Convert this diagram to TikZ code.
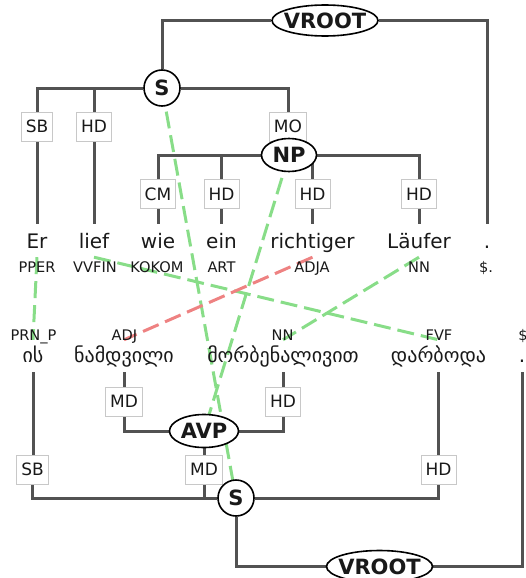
\documentclass[tikz,border=0pt]{standalone}
\usepackage{fontspec}
\setmainfont{DejaVu Sans}
\usetikzlibrary{shapes.geometric}
\definecolor{treegray}{RGB}{82,82,82}
\definecolor{boxgray}{RGB}{200,200,200}
\definecolor{algreen}{RGB}{136,221,136}
\definecolor{alred}{RGB}{238,130,130}
\definecolor{inkc}{RGB}{25,25,25}
\pgfdeclarelayer{edgelayer}
\pgfdeclarelayer{alignlayer}
\pgfsetlayers{edgelayer,alignlayer,main}
\begin{document}
\begin{tikzpicture}[x=1pt,y=-1pt,
  catnode/.style={ellipse,draw=black,line width=1.6pt,fill=white,inner sep=0pt,text=inkc,font=\fontsize{21}{24}\selectfont\bfseries},
  catcirc/.style={circle,draw=black,line width=1.6pt,fill=white,inner sep=0pt,minimum size=36pt,text=inkc,font=\fontsize{21}{24}\selectfont\bfseries},
  edgelab/.style={draw=boxgray,line width=0.8pt,fill=white,inner xsep=4.5pt,inner ysep=0pt,minimum height=29pt,text height=12.4pt,text depth=0pt,text=inkc,font=\fontsize{17}{20}\selectfont},
  tword/.style={anchor=base,inner xsep=0pt,inner ysep=5pt,text height=19pt,text depth=4pt,text=inkc,font=\fontsize{20}{24}\selectfont},
  bword/.style={anchor=base,inner xsep=0pt,inner ysep=2pt,text height=20pt,text depth=8pt,text=inkc,font=\fontsize{20}{24}\selectfont},
  postag/.style={anchor=base,inner sep=0pt,text=inkc,font=\fontsize{14.6}{17}\selectfont},
  treeline/.style={draw=treegray,line width=3pt},
  alnline/.style={line width=3pt,dash pattern=on 17pt off 7pt},
]
\useasboundingbox (0,0) rectangle (525,578);

% ---------- top tree ----------
\node[catnode,minimum width=106pt,minimum height=31pt] (vroot1) at (325,20.5) {\makebox[0pt]{VROOT}};
\node[catcirc] (s1) at (162,88) {S};
\node[edgelab] (sb1) at (37,126.5) {SB};
\node[edgelab] (hd1) at (94,126.5) {HD};
\node[edgelab] (mo1) at (288,126.5) {MO};
\node[catnode,minimum width=55pt,minimum height=33pt] (np) at (289,155) {\makebox[0pt]{NP}};
\node[edgelab] (cm) at (158,194) {CM};
\node[edgelab] (hd2) at (221.5,194) {HD};
\node[edgelab] (hd3) at (312.5,194) {HD};
\node[edgelab] (hd4) at (419,194) {HD};

\node[tword] (er) at (37,248) {Er};
\node[tword] (lief) at (94,248) {lief};
\node[tword] (wie) at (158,248) {wie};
\node[tword] (ein) at (221.5,248) {ein};
\node[tword] (richt) at (312.5,248) {richtiger};
\node[tword] (lauf) at (419,248) {Läufer};
\node[tword] (dot1) at (487,248) {.};

\node[postag] (p1) at (37,272) {PPER};
\node[postag] (p2) at (95,272) {VVFIN};
\node[postag] (p3) at (157,272) {KOKOM};
\node[postag] (p4) at (221.5,272) {ART};
\node[postag] (p5) at (312,272) {ADJA};
\node[postag] (p6) at (419,272) {NN};
\node[postag] (p7) at (486,272) {\$.};

% ---------- bottom tree ----------
\node[postag] (q1) at (33.5,340) {PRN\_P};
\node[postag] (q2) at (124.5,340) {ADJ};
\node[postag] (q3) at (282.5,340) {NN};
\node[postag] (q4) at (439,340) {FVF};
\node[postag] (q5) at (523,340) {\$};

\node[bword] (ipp) at (33,362) {ის};
\node[bword] (nam) at (124,362) {ნამდვილი};
\node[bword] (mor) at (283,362) {მორბენალივით};
\node[bword] (dar) at (438.5,362) {დარბოდა};
\node[bword] (dot2) at (522,362) {.};

\node[edgelab] (md1) at (124,401.5) {MD};
\node[edgelab] (hd5) at (283,401.5) {HD};
\node[catnode,minimum width=69pt,minimum height=33pt] (avp) at (204,431) {\makebox[0pt]{AVP}};
\node[edgelab] (sb2) at (32.5,469.5) {SB};
\node[edgelab] (md2) at (204,469.5) {MD};
\node[edgelab] (hd6) at (438.5,469.5) {HD};
\node[catcirc] (s2) at (236,498) {S};
\node[catnode,minimum width=106pt,minimum height=32pt] (vroot2) at (379.5,566.5) {\makebox[0pt]{VROOT}};

% ---------- tree edges ----------
\begin{pgfonlayer}{edgelayer}
\draw[treeline] (vroot1.west) -| (s1.north);
\draw[treeline] (vroot1.east) -| (dot1.north);
\draw[treeline] (s1.west) -| (sb1.north);
\draw[treeline] (hd1.north) -- (hd1.north |- s1.west);
\draw[treeline] (s1.east) -| (mo1.north);
\draw[treeline] (mo1.south) -- (np.north);
\draw[treeline] (sb1.south) -- (er.north);
\draw[treeline] (hd1.south) -- (lief.north);
\draw[treeline] (np.west) -| (cm.north);
\draw[treeline] (hd2.north) -- (hd2.north |- np.west);
\draw[treeline] (hd3.north) -- (hd3.north |- np.east);
\draw[treeline] (np.east) -| (hd4.north);
\draw[treeline] (cm.south) -- (wie.north);
\draw[treeline] (hd2.south) -- (ein.north);
\draw[treeline] (hd3.south) -- (richt.north);
\draw[treeline] (hd4.south) -- (lauf.north);

\draw[treeline] (ipp.south) -- (ipp.south |- sb2.north);
\draw[treeline] (sb2.south) |- (s2.west);
\draw[treeline] (nam.south) -- (md1.north);
\draw[treeline] (md1.south) |- (avp.west);
\draw[treeline] (mor.south) -- (hd5.north);
\draw[treeline] (hd5.south) |- (avp.east);
\draw[treeline] (avp.south) -- (md2.north);
\draw[treeline] (md2.south) -- (md2.south |- s2.west);
\draw[treeline] (dar.south) -- (hd6.north);
\draw[treeline] (hd6.south) |- (s2.east);
\draw[treeline] (s2.south) |- (vroot2.west);
\draw[treeline] (vroot2.east) -| (dot2.south);
\end{pgfonlayer}

% ---------- alignment links ----------
\begin{pgfonlayer}{alignlayer}
\draw[alnline,algreen] (s1.center) -- (s2.center);
\draw[alnline,algreen] (np.center) -- (avp.center);
\draw[alnline,algreen] (er.south) -- (ipp.north);
\draw[alnline,algreen] (lief.south) -- (dar.north);
\draw[alnline,alred] (richt.south) -- (nam.north);
\draw[alnline,algreen] (lauf.south) -- (mor.north);
\end{pgfonlayer}
\end{tikzpicture}
\end{document}
